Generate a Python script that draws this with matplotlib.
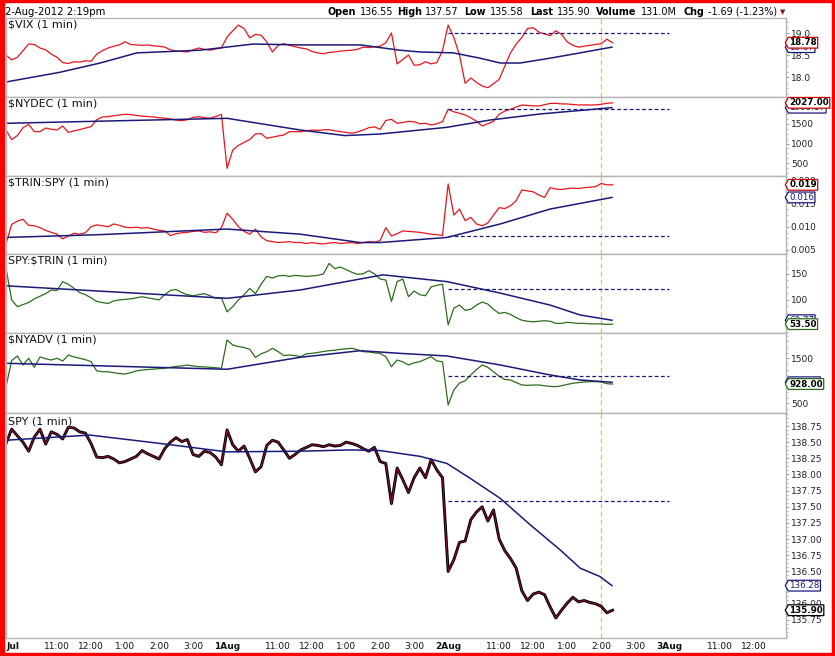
import matplotlib
matplotlib.use("Agg")
import matplotlib.pyplot as plt
from matplotlib.path import Path
from matplotlib.patches import Rectangle
from matplotlib.ticker import FixedLocator, AutoMinorLocator, FormatStrFormatter
import numpy as np

# =========================
# DATA  (1-min intraday, sampled every 10 min, minutes from 31 Jul 9:30)
# =========================
minutes = np.arange(0, 1080, 10)

vix = [18.50, 18.39, 18.45, 18.60, 18.75, 18.74, 18.66, 18.62, 18.52, 18.45,
       18.33, 18.31, 18.35, 18.34, 18.37, 18.36, 18.52, 18.60, 18.66, 18.70,
       18.73, 18.80, 18.74, 18.73, 18.72, 18.73, 18.71, 18.70, 18.68, 18.62,
       18.59, 18.58, 18.57, 18.62, 18.66, 18.63, 18.61, 18.64, 18.66, 18.91,
       19.05, 19.18, 19.10, 18.89, 18.97, 18.95, 18.80, 18.57, 18.72, 18.76,
       18.72, 18.69, 18.66, 18.64, 18.58, 18.55, 18.53, 18.56, 18.57, 18.59,
       18.60, 18.61, 18.63, 18.68, 18.67, 18.69, 18.70, 18.78, 19.00, 18.30,
       18.40, 18.50, 18.27, 18.28, 18.35, 18.30, 18.33, 18.60, 19.18, 18.90,
       18.50, 17.86, 17.98, 17.88, 17.80, 17.76, 17.85, 17.95, 18.25, 18.55,
       18.75, 18.90, 19.10, 19.12, 19.02, 18.98, 18.94, 19.05, 18.97, 18.80,
       18.72, 18.68, 18.70, 18.72, 18.74, 18.76, 18.86, 18.78]

nydec = [1341, 1100, 1200, 1400, 1480, 1300, 1300, 1390, 1360, 1341,
         1440, 1280, 1320, 1350, 1390, 1424, 1600, 1670, 1677, 1700,
         1720, 1737, 1730, 1710, 1690, 1680, 1670, 1650, 1640, 1620,
         1590, 1576, 1600, 1660, 1677, 1650, 1640, 1680, 1737, 374,
         836, 950, 1030, 1100, 1240, 1250, 1131, 1160, 1190, 1215,
         1298, 1300, 1298, 1320, 1341, 1330, 1345, 1350, 1320, 1300,
         1280, 1258, 1290, 1340, 1400, 1420, 1359, 1580, 1611, 1510,
         1530, 1560, 1550, 1500, 1510, 1467, 1500, 1550, 1864, 1800,
         1763, 1720, 1650, 1560, 1442, 1500, 1560, 1737, 1820, 1864,
         1920, 1972, 1960, 1950, 1947, 1980, 2010, 2015, 2000, 1998,
         1985, 1972, 1975, 1972, 1975, 1990, 2015, 2027]

trin_spy = [0.0063, 0.0105, 0.0112, 0.0116, 0.0103, 0.0102, 0.0098, 0.0092, 0.0088, 0.0084,
            0.0074, 0.0080, 0.0086, 0.0084, 0.0087, 0.0100, 0.0104, 0.0102, 0.0100, 0.0106,
            0.0103, 0.0099, 0.0098, 0.0099, 0.0097, 0.0098, 0.0095, 0.0092, 0.0091, 0.0081,
            0.0085, 0.0087, 0.0088, 0.0090, 0.0091, 0.0088, 0.0089, 0.0087, 0.0098, 0.0129,
            0.0116, 0.0100, 0.0090, 0.0084, 0.0095, 0.0078, 0.0070, 0.0068, 0.0066, 0.0067,
            0.0068, 0.0066, 0.0066, 0.0064, 0.0066, 0.0064, 0.0063, 0.0065, 0.0066, 0.0064,
            0.0065, 0.0066, 0.0064, 0.0066, 0.0068, 0.0067, 0.0070, 0.0098, 0.0080, 0.0085,
            0.0091, 0.0090, 0.0089, 0.0088, 0.0086, 0.0084, 0.0083, 0.0081, 0.0192, 0.0125,
            0.0138, 0.0113, 0.0120, 0.0106, 0.0102, 0.0108, 0.0125, 0.0141, 0.0139, 0.0145,
            0.0156, 0.0179, 0.0177, 0.0175, 0.0168, 0.0163, 0.0184, 0.0181, 0.0180, 0.0182,
            0.0183, 0.0182, 0.0184, 0.0185, 0.0186, 0.0193, 0.0190, 0.0190]

spy_trin = [161, 100, 87, 91, 95, 102, 107, 112, 119, 118,
            135, 130, 122, 114, 110, 104, 97, 95, 93, 98,
            100, 101, 102, 104, 106, 104, 102, 100, 110, 118,
            120, 114, 110, 108, 110, 112, 108, 103, 104, 77,
            87, 100, 110, 122, 112, 130, 145, 142, 146, 147,
            145, 147, 146, 145, 146, 147, 150, 170, 160, 163,
            158, 153, 149, 150, 156, 150, 140, 138, 97, 135,
            140, 106, 117, 110, 108, 125, 128, 130, 52, 84,
            90, 80, 82, 90, 96, 92, 82, 74, 76, 72,
            66, 61, 59, 58, 59, 60, 59, 55, 55, 57,
            56, 55, 55, 54, 54, 54, 53, 53.5]

nyadv = [870, 1450, 1550, 1351, 1500, 1300, 1530, 1490, 1462, 1500,
         1440, 1573, 1530, 1500, 1470, 1425, 1220, 1203, 1200, 1180,
         1160, 1151, 1180, 1220, 1240, 1250, 1260, 1270, 1277, 1300,
         1320, 1330, 1351, 1330, 1314, 1310, 1300, 1290, 1277, 1907,
         1796, 1760, 1740, 1700, 1520, 1600, 1647, 1722, 1650, 1560,
         1573, 1560, 1536, 1600, 1610, 1630, 1650, 1669, 1680, 1700,
         1710, 1722, 1690, 1647, 1640, 1620, 1610, 1536, 1314, 1462,
         1420, 1351, 1400, 1425, 1480, 1536, 1440, 1425, 462, 796,
         950, 1000, 1129, 1250, 1351, 1300, 1200, 1100, 1030, 1018,
         960, 907, 900, 905, 907, 890, 875, 870, 890, 920,
         944, 960, 975, 981, 980, 975, 935, 928]

spy = [138.48, 138.70, 138.60, 138.50, 138.36, 138.58, 138.70, 138.47, 138.66, 138.62,
       138.55, 138.73, 138.72, 138.66, 138.64, 138.48, 138.27, 138.26, 138.28, 138.24,
       138.18, 138.20, 138.24, 138.28, 138.37, 138.32, 138.28, 138.24, 138.40, 138.50,
       138.57, 138.51, 138.54, 138.31, 138.28, 138.36, 138.34, 138.27, 138.15, 138.69,
       138.46, 138.36, 138.44, 138.25, 138.04, 138.12, 138.45, 138.53, 138.50, 138.38,
       138.25, 138.31, 138.38, 138.42, 138.46, 138.45, 138.43, 138.46, 138.44, 138.45,
       138.50, 138.48, 138.45, 138.40, 138.36, 138.42, 138.20, 138.17, 137.55, 138.10,
       137.92, 137.72, 137.95, 138.10, 137.95, 138.23, 138.07, 137.95, 136.50, 136.68,
       136.95, 136.97, 137.30, 137.42, 137.50, 137.28, 137.45, 137.00, 136.82, 136.70,
       136.55, 136.20, 136.05, 136.15, 136.18, 136.14, 135.95, 135.78, 135.90, 136.01,
       136.10, 136.03, 136.05, 136.02, 136.00, 135.96, 135.86, 135.90]

# moving averages (knots: minute, value)
vix_ma_t = [0, 95, 166, 231, 342, 436, 519, 625, 695, 731, 789, 836, 872, 907, 960, 1013, 1069]
vix_ma = [17.89, 18.11, 18.32, 18.55, 18.61, 18.75, 18.73, 18.73, 18.61, 18.57, 18.55, 18.43,
          18.32, 18.32, 18.43, 18.55, 18.68]
nydec_ma_t = [0, 390, 519, 598, 660, 778, 854, 942, 1069]
nydec_ma = [1510, 1636, 1341, 1200, 1240, 1409, 1593, 1745, 1905]
trin_ma_t = [0, 166, 390, 519, 625, 660, 778, 872, 960, 1069]
trin_ma = [0.0077, 0.0083, 0.0095, 0.0084, 0.0066, 0.0066, 0.0077, 0.0106, 0.0138, 0.0163]
spytrin_ma_t = [0, 390, 519, 665, 778, 872, 960, 1013, 1069]
spytrin_ma = [127, 103, 119, 148, 135, 113, 90, 71, 61]
nyadv_ma_t = [0, 390, 519, 625, 695, 778, 872, 960, 1013, 1069]
nyadv_ma = [1389, 1256, 1522, 1669, 1610, 1551, 1351, 1129, 1018, 967]
spy_ma_t = [0, 148, 272, 390, 519, 607, 660, 731, 778, 819, 872, 925, 978, 1013, 1048, 1069]
spy_ma = [138.53, 138.61, 138.48, 138.35, 138.36, 138.38, 138.37, 138.28, 138.17, 137.94,
          137.63, 137.22, 136.83, 136.55, 136.42, 136.28]

# dashed reference levels for the 2 Aug session
ref_levels = [19.01, 1864, 0.0081, 120.6, 1107, 137.59]
ref_start, ref_end = 780, 1170
now_minute = 1050

tick_t = [0, 90, 150, 210, 270, 330, 390, 480, 540, 600, 660, 720,
          780, 870, 930, 990, 1050, 1110, 1170, 1260, 1320]
tick_lbl = ["Jul", "11:00", "12:00", "1:00", "2:00", "3:00", "1Aug", "11:00", "12:00", "1:00",
            "2:00", "3:00", "2Aug", "11:00", "12:00", "1:00", "2:00", "3:00", "3Aug", "11:00", "12:00"]

# =========================
# STYLE
# =========================
W, H = 835, 656
RED = "#e8141c"
GREEN = "#2d6b1e"
NAVY = "#1a1a7a"
GOLD = "#f2c21a"
plt.rcParams["font.family"] = ["DejaVu Sans"]

fig = plt.figure(figsize=(W / 100, H / 100), dpi=100, facecolor="white")


def tag_box(x0, y0, width, height, mutation_size):
    pad = 0.1 * mutation_size
    x0, y0 = x0 - pad, y0 - pad
    width, height = width + 2 * pad, height + 2 * pad
    tip = 0.28 * height
    verts = [(x0 - tip, y0 + height / 2), (x0, y0), (x0 + width, y0),
             (x0 + width, y0 + height), (x0, y0 + height), (x0 - tip, y0 + height / 2)]
    return Path(verts, closed=True)


def tag(ax, val, text, edge, bold, z):
    ax.annotate(text, xy=(1, val), xycoords=("axes fraction", "data"),
                xytext=(2.3, 0), textcoords="offset points", ha="left", va="center",
                fontsize=6.3, fontweight="bold" if bold else "normal",
                color="black" if bold else edge,
                bbox=dict(boxstyle=tag_box, fc="white", ec=edge, lw=0.9),
                annotation_clip=False, zorder=z)


def px_axes(top, bottom):
    return fig.add_axes([6 / W, 1 - bottom / H, 780 / W, (bottom - top) / H])


panels = [
    (18, 97, "$VIX (1 min)", vix, RED, vix_ma_t, vix_ma, (17.55, 19.34),
     [18.0, 18.5, 19.0], "%.1f", ("18.78", "18.67")),
    (97, 176, "$NYDEC (1 min)", nydec, RED, nydec_ma_t, nydec_ma, (180, 2174),
     [500, 1000, 1500, 2000], "%d", ("2027.00", "1905.17")),
    (176, 254, "$TRIN:SPY (1 min)", trin_spy, RED, trin_ma_t, trin_ma, (0.00414, 0.0209),
     [0.005, 0.010, 0.015, 0.020], "%.3f", ("0.019", "0.016")),
    (254, 333, "SPY:$TRIN (1 min)", spy_trin, GREEN, spytrin_ma_t, spytrin_ma, (36.5, 188),
     [50, 100, 150], "%d", ("53.50", "60.77")),
    (333, 412.7, "$NYADV (1 min)", nyadv, GREEN, nyadv_ma_t, nyadv_ma, (291, 2062),
     [500, 1000, 1500], "%d", ("928.00", "967.15")),
    (412.7, 638, "SPY (1 min)", spy, "black", spy_ma_t, spy_ma, (135.47, 138.956),
     [135.75, 136.00, 136.25, 136.50, 136.75, 137.00, 137.25, 137.50, 137.75,
      138.00, 138.25, 138.50, 138.75], "%.2f", ("135.90", "136.28")),
]

axes = []
for i, (top, bot, title, series, col, ma_t, ma_v, ylim, yt, fmt, lbls) in enumerate(panels):
    ax = px_axes(top, bot)
    axes.append(ax)

    if i == 5:
        ax.plot(minutes, series, color="black", lw=2.1, zorder=2)
        ax.plot(minutes, series, color="#a8103a", lw=0.6, zorder=2.1)
    else:
        ax.plot(minutes, series, color=col, lw=0.9, zorder=2)
    ax.plot(ma_t, ma_v, color=NAVY, lw=1.1, zorder=2.2)
    ax.hlines(ref_levels[i], ref_start, ref_end, colors=NAVY, linestyles=(0, (3, 2)), lw=0.9)
    ax.axvline(now_minute, color=GOLD, ls=(0, (4, 2.5)), lw=0.9, zorder=1)

    ax.set_xlim(0, 1376)
    ax.set_ylim(*ylim)
    for s in ax.spines.values():
        s.set_color("#b4b4b4")
        s.set_linewidth(1)

    ax.yaxis.tick_right()
    ax.yaxis.set_major_locator(FixedLocator(yt))
    ax.yaxis.set_major_formatter(FormatStrFormatter(fmt))
    ax.yaxis.set_minor_locator(AutoMinorLocator(4))
    ax.tick_params(axis="y", which="major", direction="out", length=2, width=0.7,
                   color="#999999", labelsize=6.5, labelcolor="#222222", pad=1.5)
    ax.tick_params(axis="y", which="minor", direction="out", length=1.2, width=0.6, color="#aaaaaa")

    ax.text(0.003, 0.985, title, transform=ax.transAxes, ha="left", va="top",
            fontsize=8, color="#111111", parse_math=False)

    # value tags: moving average underneath, last value on top
    tag(ax, ma_v[-1], lbls[1], NAVY, False, 5)
    last_edge = {RED: "#cc0000", GREEN: GREEN, "black": "black"}[col]
    tag(ax, series[-1], lbls[0], last_edge, True, 6)

    if i < 5:
        ax.tick_params(axis="x", which="both", bottom=False, labelbottom=False)
    else:
        ax.set_xticks(tick_t)
        ax.set_xticklabels(tick_lbl)
        ax.tick_params(axis="x", length=0, labelsize=6.5, pad=3, labelcolor="#111111")
        for lab, txt in zip(ax.get_xticklabels(), tick_lbl):
            if "Aug" in txt or txt == "Jul":
                lab.set_fontweight("bold")
        ax.get_xticklabels()[0].set_ha("left")

# =========================
# HEADER
# =========================
fig.text(5 / W, 1 - 12 / H, "2-Aug-2012 2:19pm", fontsize=7.3, va="center", ha="left")
header = [(328, "Open", True), (360, "136.55", False), (397, "High", True), (425, "137.57", False),
          (464, "Low", True), (490, "135.58", False), (530, "Last", True), (557, "135.90", False),
          (596, "Volume", True), (641, "131.0M", False), (684, "Chg", True),
          (708, "-1.69 (-1.23%)", False)]
for x, txt, bold in header:
    fig.text(x / W, 1 - 12 / H, txt, fontsize=6.9, va="center", ha="left",
             fontweight="bold" if bold else "normal")
fig.text(780 / W, 1 - 12 / H, "\u25bc", fontsize=5, va="center", ha="left", color="#8b1a1a")

# red frame
for x0, y0, w, h in [(0, 0, 4, H), (832, 0, 3, H), (0, 0, W, 2), (0, 653, W, 3)]:
    fig.patches.append(Rectangle((x0 / W, 1 - (y0 + h) / H), w / W, h / H,
                                 transform=fig.transFigure, color="#ff0000", zorder=10))

plt.savefig("out.png", dpi=100, facecolor="white")
